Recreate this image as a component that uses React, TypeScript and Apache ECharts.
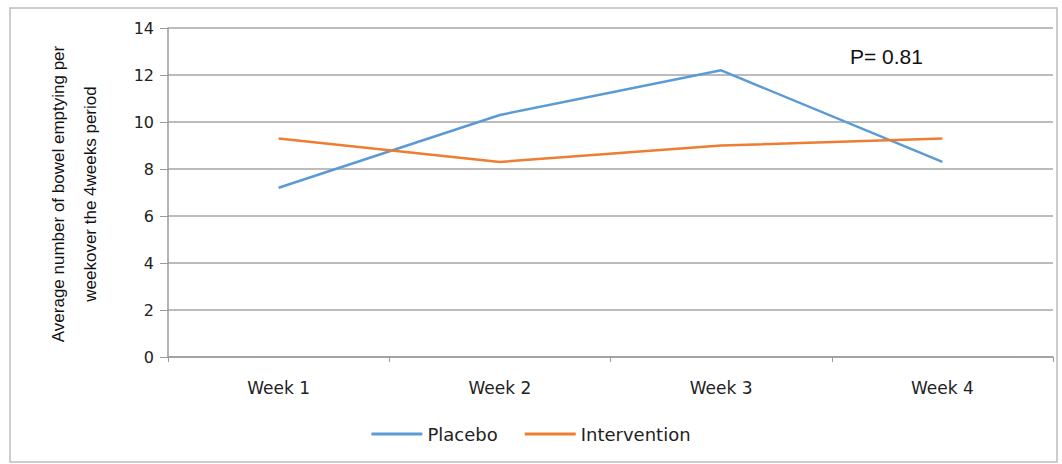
import React, { useEffect, useRef } from "react";
import * as echarts from "echarts";

const weeks = ["Week 1", "Week 2", "Week 3", "Week 4"];
const placebo = [7.2, 10.3, 12.2, 8.3];
const intervention = [9.3, 8.3, 9.0, 9.3];
const yTicks = { min: 0, max: 14, interval: 2 };
const pValueText = "P= 0.81";
const yTitleLines = ["Average number of bowel emptying per", "weekover the 4weeks period"];

export default function App() {
  const ref = useRef<HTMLDivElement>(null);

  useEffect(() => {
    if (!ref.current) return;
    const chart = echarts.init(ref.current, null, { renderer: "svg" });
    const axisGray = "#9a9a9a";
    chart.setOption({
      animation: false,
      backgroundColor: "#ffffff",
      grid: { left: 168, right: 9, top: 28, bottom: 107, containLabel: false },
      xAxis: {
        type: "category",
        data: weeks,
        boundaryGap: true,
        axisLine: { show: true, lineStyle: { color: axisGray, width: 1.5 } },
        axisTick: { show: true, length: 5, lineStyle: { color: axisGray } },
        axisLabel: {
          margin: 22,
          color: "#222",
          fontFamily: "DejaVu Sans, sans-serif",
          fontSize: 17,
        },
        splitLine: { show: false },
      },
      yAxis: {
        type: "value",
        min: yTicks.min,
        max: yTicks.max,
        interval: yTicks.interval,
        axisLine: { show: true, lineStyle: { color: axisGray, width: 1.5 } },
        axisTick: { show: true, length: 8, lineStyle: { color: axisGray } },
        axisLabel: {
          margin: 14,
          color: "#222",
          fontFamily: "DejaVu Sans, sans-serif",
          fontSize: 16,
        },
        splitLine: { show: true, lineStyle: { color: "#a6a6a6", width: 1.5 } },
      },
      legend: {
        bottom: 16,
        left: "center",
        itemWidth: 51,
        itemHeight: 3,
        itemGap: 27,
        icon: "rect",
        textStyle: { color: "#222", fontFamily: "DejaVu Sans, sans-serif", fontSize: 18 },
        data: ["Placebo", "Intervention"],
      },
      series: [
        {
          name: "Placebo",
          type: "line",
          data: placebo,
          symbol: "none",
          color: "#5b9bd5",
          lineStyle: { color: "#5b9bd5", width: 2.5 },
        },
        {
          name: "Intervention",
          type: "line",
          data: intervention,
          symbol: "none",
          color: "#ed7d31",
          lineStyle: { color: "#ed7d31", width: 2.5 },
        },
      ],
      graphic: [
        {
          type: "rect",
          shape: { x: 10, y: 8, width: 1047, height: 454 },
          style: { fill: "none", stroke: "#bdbdbd", lineWidth: 1.5 },
          silent: true,
        },
        {
          type: "text",
          x: 850,
          y: 46,
          style: {
            text: pValueText,
            fill: "#111",
            font: "21px 'Liberation Sans', sans-serif",
          },
        },
        {
          type: "text",
          x: 74,
          y: 194,
          rotation: Math.PI / 2,
          style: {
            text: yTitleLines.join("\n"),
            fill: "#111",
            align: "center",
            verticalAlign: "middle",
            lineHeight: 32,
            font: "17px 'Liberation Sans', sans-serif",
          },
        },
      ],
    });
    return () => chart.dispose();
  }, []);

  return (
    <div
      ref={ref}
      style={{ position: "fixed", left: 0, top: 0, width: 1062, height: 464 }}
    />
  );
}
